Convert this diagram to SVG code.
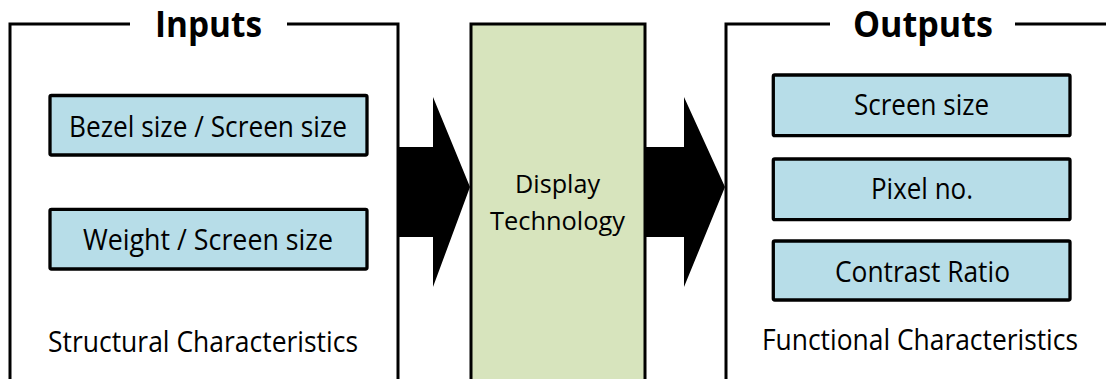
<svg xmlns="http://www.w3.org/2000/svg" width="1106" height="379" viewBox="0 0 1106 379">
<style>
.bracket{fill:none;stroke:#000;stroke-width:3}
.box{fill:#b7dde8;stroke:#000;stroke-width:3.3}
.core{fill:#d7e4bd;stroke:#000;stroke-width:3}
.arrow{fill:#000;stroke:none}
.t{font-family:"Open Sans","Noto Sans","Liberation Sans",sans-serif;font-size:29px;fill:#000}
.s{font-size:25px}
.h{font-weight:bold;font-size:35px}
</style>
<rect width="1106" height="379" fill="#fff"/>
<g id="inputs">
<path class="bracket" d="M130 24 H10 V382 M287 24 H398 V382"/>
<text class="t h" x="155" y="37" textLength="107" lengthAdjust="spacingAndGlyphs">Inputs</text>
<text class="t" x="48" y="352" textLength="310" lengthAdjust="spacingAndGlyphs">Structural Characteristics</text>
</g>
<g id="bezel">
<rect class="box" x="50" y="95.5" width="317" height="59.5" rx="1.5"/>
<text class="t" x="69" y="137" textLength="278" lengthAdjust="spacingAndGlyphs">Bezel size / Screen size</text>
</g>
<g id="weight">
<rect class="box" x="50" y="209.3" width="317" height="59.7" rx="1.5"/>
<text class="t" x="83" y="250" textLength="250" lengthAdjust="spacingAndGlyphs">Weight / Screen size</text>
</g>
<g id="display">
<rect class="core" x="471" y="24" width="174" height="360"/>
<text class="t s" x="515" y="193" textLength="85" lengthAdjust="spacingAndGlyphs">Display</text>
<text class="t s" x="490" y="230" textLength="135" lengthAdjust="spacingAndGlyphs">Technology</text>
</g>
<g id="outputs">
<path class="bracket" d="M830 24 H726 V382 M1015 24 H1108"/>
<text class="t h" x="853" y="37" textLength="140" lengthAdjust="spacingAndGlyphs">Outputs</text>
<text class="t" x="762" y="350" textLength="316" lengthAdjust="spacingAndGlyphs">Functional Characteristics</text>
</g>
<g id="screen">
<rect class="box" x="773.3" y="75" width="296.7" height="60.7" rx="1.5"/>
<text class="t" x="854" y="115" textLength="135" lengthAdjust="spacingAndGlyphs">Screen size</text>
</g>
<g id="pixel">
<rect class="box" x="773.3" y="159" width="296.7" height="60.7" rx="1.5"/>
<text class="t" x="871" y="199" textLength="102" lengthAdjust="spacingAndGlyphs">Pixel no.</text>
</g>
<g id="contrast">
<rect class="box" x="773.3" y="241" width="296.7" height="59" rx="1.5"/>
<text class="t" x="835" y="282" textLength="175" lengthAdjust="spacingAndGlyphs">Contrast Ratio</text>
</g>
<g id="connectors">
<polygon class="arrow" points="398,147 433,147 433,97 470,187 433,287 433,237 398,237"/>
<polygon class="arrow" points="646,147 684,147 684,97 725,187 684,287 684,237 646,237"/>
</g>
</svg>
